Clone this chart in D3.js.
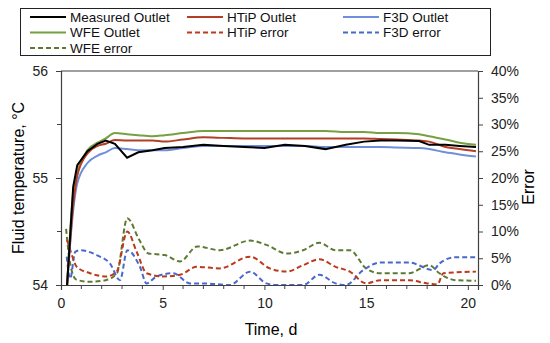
<!DOCTYPE html>
<html>
<head>
<meta charset="utf-8">
<script src="https://cdn.jsdelivr.net/npm/d3@7"></script>
<style>
  body { margin: 0; background: #fff; }
  svg { font-family: "Liberation Sans", Arial, sans-serif; }
  .axis path, .axis line { stroke: #404040; }
  .axis text { fill: #222; font-size: 14px; }
</style>
</head>
<body>
<svg id="chart" width="550" height="343"></svg>
<script>
// outlet temperatures (°C)
const outletDays = [0.3, 0.6, 0.8, 1.3, 1.8, 2.2, 2.65, 3.25, 3.8, 4.5, 5.1, 6, 7, 8, 9, 10, 11, 12, 13, 14, 14.9, 15.7, 16.5, 17.6, 18.1, 18.9, 19.6, 20.4];
const measuredOutlet = [54.0, 54.92, 55.12, 55.25, 55.32, 55.35, 55.32, 55.19, 55.24, 55.26, 55.28, 55.29, 55.31, 55.30, 55.29, 55.28, 55.31, 55.30, 55.27, 55.31, 55.34, 55.35, 55.35, 55.345, 55.31, 55.31, 55.30, 55.29];
const htipOutlet = [54.0, 54.75, 55.02, 55.23, 55.30, 55.32, 55.355, 55.35, 55.35, 55.35, 55.34, 55.36, 55.38, 55.375, 55.37, 55.37, 55.37, 55.37, 55.37, 55.37, 55.37, 55.365, 55.36, 55.35, 55.34, 55.29, 55.27, 55.25];
const f3dOutlet = [54.0, 54.7, 54.95, 55.14, 55.21, 55.24, 55.28, 55.27, 55.26, 55.26, 55.26, 55.28, 55.30, 55.30, 55.30, 55.30, 55.30, 55.30, 55.29, 55.29, 55.29, 55.29, 55.285, 55.28, 55.27, 55.24, 55.22, 55.20];
const wfeOutlet = [54.0, 54.87, 55.05, 55.26, 55.33, 55.37, 55.42, 55.41, 55.40, 55.39, 55.40, 55.42, 55.44, 55.44, 55.44, 55.44, 55.44, 55.44, 55.44, 55.43, 55.43, 55.42, 55.42, 55.41, 55.39, 55.36, 55.33, 55.31];

// errors (%)
const htipErrDays = [0.3, 0.5, 0.77, 1.43, 2.24, 2.74, 3.26, 3.72, 4.21, 5.03, 5.85, 6.67, 7.8, 9.29, 10.27, 11.1, 11.9, 12.7, 13.5, 14.2, 15.0, 15.7, 17.1, 18.0, 18.5, 18.8, 20.4];
const htipErr = [8.4, 6.0, 3.4, 2.2, 1.6, 2.5, 10.0, 6.2, 2.2, 1.6, 1.9, 3.4, 3.1, 5.3, 3.1, 2.5, 3.7, 4.8, 3.4, 2.5, 0.3, 0.9, 0.9, 0.3, 0.1, 2.2, 2.5];
const f3dErrDays = [0.28, 0.45, 0.7, 0.93, 1.75, 2.41, 2.9, 3.26, 3.88, 4.21, 4.7, 5.52, 6.34, 7.0, 8.3, 9.29, 10.1, 10.6, 11.9, 12.7, 13.5, 14.0, 14.86, 15.7, 17.1, 18.3, 18.6, 19.4, 20.4];
const f3dErr = [5.3, 1.2, 6.2, 6.5, 5.6, 4.0, 0.9, 6.5, 3.4, 0.3, 1.6, 2.2, 0.3, 0.3, 0.0, 2.5, 0.3, 0.0, 0.0, 1.9, 0.3, 0.0, 2.8, 4.2, 4.2, 2.8, 4.0, 5.2, 5.2];
const wfeErrDays = [0.25, 0.45, 0.75, 1.4, 2.2, 2.75, 3.26, 3.85, 4.3, 5.1, 5.85, 6.7, 7.8, 9.3, 10.1, 11.1, 11.9, 12.7, 13.5, 14.2, 15.0, 15.7, 17.1, 18.1, 18.6, 19.4, 20.4];
const wfeErr = [10.5, 4.0, 1.0, 0.6, 0.9, 2.2, 12.5, 8.4, 5.9, 5.6, 4.4, 7.2, 6.5, 8.3, 7.5, 5.9, 6.5, 7.9, 6.5, 6.5, 3.1, 2.2, 2.2, 3.7, 2.2, 0.9, 0.8];

const tempTicks = [54, 55, 56];
const errTicks = [0, 5, 10, 15, 20, 25, 30, 35, 40];
const dayTicks = [0, 5, 10, 15, 20];

const svg = d3.select('#chart');
const margin = {top: 71, right: 72, bottom: 58, left: 61};
const width = 550 - margin.left - margin.right;
const height = 343 - margin.top - margin.bottom;

const x = d3.scaleLinear().domain([0, 20.5]).range([0, width]);
const yT = d3.scaleLinear().domain([54, 56]).range([height, 0]);
const yE = d3.scaleLinear().domain([0, 40]).range([height, 0]);

const g = svg.append('g').attr('transform', `translate(${margin.left},${margin.top})`);

g.append('clipPath').attr('id', 'plotClip')
    .append('rect').attr('x', 0).attr('y', 0).attr('width', width).attr('height', height);

// series definitions
const series = [
    {name: 'Measured Outlet', days: outletDays, vals: measuredOutlet, axis: 'T', color: '#000000', dash: null, curve: d3.curveLinear},
    {name: 'HTiP Outlet', days: outletDays, vals: htipOutlet, axis: 'T', color: '#b23f26', dash: null, curve: d3.curveMonotoneX},
    {name: 'F3D Outlet', days: outletDays, vals: f3dOutlet, axis: 'T', color: '#6f8fdc', dash: null, curve: d3.curveMonotoneX},
    {name: 'WFE Outlet', days: outletDays, vals: wfeOutlet, axis: 'T', color: '#77a043', dash: null, curve: d3.curveMonotoneX},
    {name: 'HTiP error', days: htipErrDays, vals: htipErr, axis: 'E', color: '#bb3a1c', dash: '5,3', curve: d3.curveMonotoneX},
    {name: 'F3D error', days: f3dErrDays, vals: f3dErr, axis: 'E', color: '#4a68cc', dash: '5,3', curve: d3.curveMonotoneX},
    {name: 'WFE error', days: wfeErrDays, vals: wfeErr, axis: 'E', color: '#5d7a32', dash: '5,3', curve: d3.curveMonotoneX}
];

// axes
const leftAxis = g.append('g').attr('class', 'axis')
    .call(d3.axisLeft(yT).tickValues(tempTicks).tickFormat(d3.format('d')).tickSize(5).tickPadding(8));
// minor ticks at half degrees
leftAxis.selectAll('.minor').data([54.5, 55.5]).enter().append('line')
    .attr('class', 'minor').attr('x1', -4).attr('x2', 0)
    .attr('y1', d => yT(d)).attr('y2', d => yT(d));

g.append('g').attr('class', 'axis')
    .attr('transform', `translate(${width},0)`)
    .call(d3.axisRight(yE).tickValues(errTicks).tickFormat(d => d + '%').tickSize(5).tickPadding(8));

const bottomAxis = g.append('g').attr('class', 'axis')
    .attr('transform', `translate(0,${height})`)
    .call(d3.axisBottom(x).tickValues(dayTicks).tickFormat(d3.format('d')).tickSize(5).tickPadding(8));
bottomAxis.selectAll('.minor').data(d3.range(1, 21).filter(d => d % 5 !== 0)).enter().append('line')
    .attr('class', 'minor').attr('y1', 0).attr('y2', 4)
    .attr('x1', d => x(d)).attr('x2', d => x(d));

// top border
g.append('line').attr('x1', 0).attr('x2', width).attr('y1', 0).attr('y2', 0).attr('stroke', '#404040');
g.selectAll('.axis .domain').attr('stroke-width', 1.2);

// lines
const plot = g.append('g').attr('clip-path', 'url(#plotClip)');
series.slice().reverse().forEach(s => {
    const yScale = s.axis === 'T' ? yT : yE;
    const line = d3.line()
        .x((d, i) => x(s.days[i]))
        .y(d => yScale(d))
        .curve(s.curve);
    plot.append('path')
        .datum(s.vals)
        .attr('d', line)
        .attr('fill', 'none')
        .attr('stroke', s.color)
        .attr('stroke-width', 2)
        .attr('stroke-dasharray', s.dash);
});

// axis titles
svg.append('text')
    .attr('transform', `translate(24,${margin.top + height / 2}) rotate(-90)`)
    .attr('text-anchor', 'middle')
    .style('font-size', '16px')
    .text('Fluid temperature, °C');

svg.append('text')
    .attr('transform', `translate(534,187) rotate(-90)`)
    .attr('text-anchor', 'middle')
    .style('font-size', '16px')
    .text('Error');

svg.append('text')
    .attr('x', 271).attr('y', 335)
    .attr('text-anchor', 'middle')
    .style('font-size', '16px')
    .text('Time, d');

// legend
const legend = svg.append('g');
legend.append('rect')
    .attr('x', 20.5).attr('y', 8.5).attr('width', 470).attr('height', 47)
    .attr('fill', '#fff').attr('stroke', '#222').attr('stroke-width', 1);

const colX = [30, 187, 343];
const rowY = [17, 32.5, 48];
series.forEach((s, i) => {
    const cx = colX[i % 3];
    const cy = rowY[Math.floor(i / 3)];
    legend.append('line')
        .attr('x1', cx).attr('x2', cx + 36)
        .attr('y1', cy).attr('y2', cy)
        .attr('stroke', s.color).attr('stroke-width', 2)
        .attr('stroke-dasharray', s.dash);
    legend.append('text')
        .attr('x', cx + 40).attr('y', cy + 4.7)
        .style('font-size', '13.5px')
        .attr('fill', '#111')
        .text(s.name);
});
</script>
</body>
</html>
